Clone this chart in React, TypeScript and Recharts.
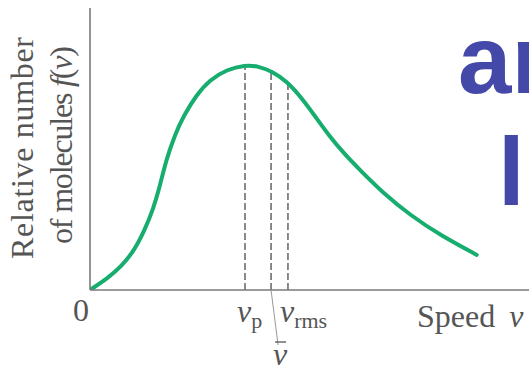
import * as React from "react";
import {
  LineChart,
  Line,
  XAxis,
  YAxis,
  ReferenceLine
} from "recharts";

// speed (in units of v_p) and relative number of molecules (peak = 1)
const speeds = [0, 0.116, 0.202, 0.288, 0.353, 0.406, 0.45, 0.49, 0.548, 0.602, 0.688, 0.774, 0.882, 1.0, 1.086, 1.172, 1.269, 1.366, 1.452, 1.537, 1.645, 1.742, 1.892, 2.065, 2.258, 2.495];
const relNumbers = [0, 0.053, 0.104, 0.178, 0.267, 0.356, 0.459, 0.575, 0.69, 0.772, 0.868, 0.935, 0.979, 1.0, 0.994, 0.972, 0.928, 0.853, 0.772, 0.69, 0.601, 0.533, 0.43, 0.333, 0.244, 0.156];

// characteristic speeds: v_p, v-bar, v_rms
const markerNames = ["vp", "vbar", "vrms"];
const markerSpeeds = [1.0, 1.168, 1.277];
const markerHeights = [1.0, 0.973, 0.925];

const yTitleLines = ["Relative number", "of molecules "];

const data = speeds.map((v, i) => ({ v, f: relNumbers[i] }));

const textColor = "#555";
const serif = "Liberation Serif";
const serifStyle = { fontFamily: "'Liberation Serif', serif" };

const SpeedTick = (props: any) => {
  const { x, y, payload } = props;
  const val = payload.value;
  if (val === 0) {
    return (
      <text x={x - 9} y={y + 31} textAnchor="middle" fontSize={32} fontFamily={serif} style={serifStyle} fill={textColor}>
        0
      </text>
    );
  }
  const idx = markerSpeeds.indexOf(val);
  const name = markerNames[idx];
  if (name === "vbar") {
    return (
      <g>
        <line x1={x} y1={y} x2={x + 7} y2={y + 55} stroke="#999" strokeWidth={1} />
        <line x1={x + 4} y1={y + 52} x2={x + 15} y2={y + 52} stroke={textColor} strokeWidth={1.3} />
        <text x={x + 9} y={y + 75} textAnchor="middle" fontSize={32} fontFamily={serif} style={serifStyle} fontStyle="italic" fill={textColor}>
          v
        </text>
      </g>
    );
  }
  const sub = name === "vp" ? "p" : "rms";
  return (
    <text x={x - 8} y={y + 32} textAnchor="start" fontSize={32} fontFamily={serif} style={serifStyle} fill={textColor}>
      <tspan fontStyle="italic">v</tspan>
      <tspan fontSize={22} dy={6}>{sub}</tspan>
    </text>
  );
};

const renderYTitle = () => (
  <g>
    <text
      transform="translate(33,148) rotate(-90)"
      textAnchor="middle"
      fontSize={32}
      fontFamily={serif}
      style={serifStyle}
      fill={textColor}
      textLength={222}
      lengthAdjust="spacing"
    >
      {yTitleLines[0]}
    </text>
    <text
      transform="translate(72,145) rotate(-90)"
      textAnchor="middle"
      fontSize={32}
      fontFamily={serif}
      style={serifStyle}
      fill={textColor}
      textLength={198}
      lengthAdjust="spacing"
    >
      {yTitleLines[1]}
      <tspan fontStyle="italic">f</tspan>(<tspan fontStyle="italic">v</tspan>)
    </text>
  </g>
);

const renderXTitle = (props: any) => {
  const vb = props.viewBox || {};
  return (
    <text x={vb.x + vb.width - 112} y={vb.y + 37} fontSize={32} fontFamily={serif} style={serifStyle} fill={textColor}>
      Speed <tspan fontStyle="italic" dx={6}>v</tspan>
    </text>
  );
};

export default function App() {
  return (
    <div style={{ position: "absolute", left: 0, top: 0, width: 529, height: 371, overflow: "hidden", background: "#fff" }}>
      <LineChart width={529} height={371} data={data} margin={{ top: 8, right: 0, left: 0, bottom: 0 }}>
        <XAxis
          type="number"
          dataKey="v"
          domain={[0, 2.832]}
          allowDataOverflow
          ticks={[0, ...markerSpeeds]}
          tick={<SpeedTick />}
          tickLine={false}
          tickSize={0}
          tickMargin={0}
          height={81}
          interval={0}
          axisLine={{ stroke: "#7a7a7a", strokeWidth: 1.6 }}
          label={{ content: renderXTitle }}
        />
        <YAxis
          type="number"
          domain={[0, 1.253]}
          allowDataOverflow
          width={90}
          tick={false}
          tickLine={false}
          axisLine={{ stroke: "#7a7a7a", strokeWidth: 1.6 }}
          label={{ content: renderYTitle }}
        />
        {markerSpeeds.map((s, i) => (
          <ReferenceLine
            key={markerNames[i]}
            segment={[{ x: s, y: 0 }, { x: s, y: markerHeights[i] }]}
            stroke="#6e6e6e"
            strokeWidth={1.6}
            strokeDasharray="7 3"
          />
        ))}
        <Line
          type="basis"
          dataKey="f"
          stroke="#17ad6e"
          strokeWidth={4}
          strokeLinecap="round"
          dot={false}
          isAnimationActive={false}
        />
      </LineChart>
      <svg width={529} height={371} style={{ position: "absolute", left: 0, top: 0, pointerEvents: "none" }}>
        <g fontFamily="'Liberation Sans', Arial, sans-serif" fontWeight="bold" fontSize={96} fill="#4448a8">
          <text x={458} y={93}>ar</text>
          <text x={498} y={205}>l</text>
        </g>
      </svg>
    </div>
  );
}
